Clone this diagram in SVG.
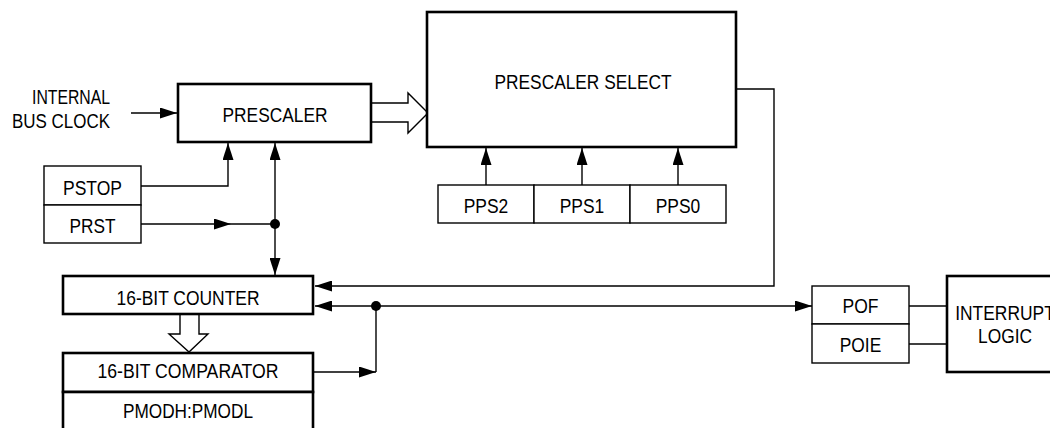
<svg xmlns="http://www.w3.org/2000/svg" width="1050" height="428" viewBox="0 0 1050 428">
<style>
text{font-family:"Liberation Sans",Arial,sans-serif;font-size:20px;fill:#000;text-anchor:middle}
.thick{fill:#fff;stroke:#000;stroke-width:2.6}
.reg{fill:#fff;stroke:#000;stroke-width:1.4}
.ln{fill:none;stroke:#000;stroke-width:1.4}
.hollow{fill:#fff;stroke:#000;stroke-width:1.4;stroke-linejoin:miter}
</style>
<defs>
<marker id="ah" viewBox="0 0 17 11" refX="17" refY="5.5" markerWidth="17" markerHeight="11" markerUnits="userSpaceOnUse" orient="auto-start-reverse">
<path d="M0,0 L17,5.5 L0,11 Z" fill="#000"/>
</marker>
</defs>

<g id="connectors">
<line class="ln" x1="131" y1="113" x2="177" y2="113" marker-end="url(#ah)"/>
<path class="hollow" d="M371,103 H408 V93 L428,113 L408,133 V122 H371"/>
<polyline class="ln" points="141,186 228,186 228,143" marker-end="url(#ah)"/>
<line class="ln" x1="141" y1="224" x2="231" y2="224" marker-end="url(#ah)"/>
<line class="ln" x1="231" y1="224" x2="275" y2="224"/>
<line class="ln" x1="275" y1="143" x2="275" y2="275" marker-start="url(#ah)" marker-end="url(#ah)"/>
<circle cx="275" cy="224" r="5" fill="#000"/>
<line class="ln" x1="486" y1="185" x2="486" y2="148" marker-end="url(#ah)"/>
<line class="ln" x1="582" y1="185" x2="582" y2="148" marker-end="url(#ah)"/>
<line class="ln" x1="678" y1="185" x2="678" y2="148" marker-end="url(#ah)"/>
<polyline class="ln" points="736,89 774,89 774,286 315,286" marker-end="url(#ah)"/>
<line class="ln" x1="315" y1="306" x2="812" y2="306" marker-start="url(#ah)" marker-end="url(#ah)"/>
<circle cx="376" cy="306" r="5" fill="#000"/>
<line class="ln" x1="314" y1="372" x2="376" y2="372" marker-end="url(#ah)"/>
<line class="ln" x1="376" y1="372" x2="376" y2="306"/>
<path class="hollow" d="M180,315 V334 H169 L189,352 L208,334 H199 V315"/>
<line class="ln" x1="909" y1="306" x2="947" y2="306"/>
<line class="ln" x1="909" y1="344" x2="947" y2="344"/>
</g>

<g id="internal-bus-clock">
<text x="110" y="104" style="text-anchor:end" textLength="78" lengthAdjust="spacingAndGlyphs">INTERNAL</text>
<text x="110" y="128" style="text-anchor:end" textLength="98" lengthAdjust="spacingAndGlyphs">BUS CLOCK</text>
</g>

<g id="prescaler">
<rect class="thick" x="178" y="84" width="193" height="58"/>
<text x="275" y="122" textLength="105" lengthAdjust="spacingAndGlyphs">PRESCALER</text>
</g>

<g id="prescaler-select">
<rect class="thick" x="427" y="12" width="309" height="135"/>
<text x="583" y="89" textLength="177" lengthAdjust="spacingAndGlyphs">PRESCALER SELECT</text>
</g>

<g id="pstop">
<rect class="reg" x="44" y="166" width="97" height="39"/>
<text x="92.5" y="195" textLength="59" lengthAdjust="spacingAndGlyphs">PSTOP</text>
</g>

<g id="prst">
<rect class="reg" x="44" y="205" width="97" height="38"/>
<text x="92.5" y="233" textLength="46" lengthAdjust="spacingAndGlyphs">PRST</text>
</g>

<g id="pps2">
<rect class="reg" x="438" y="185" width="96" height="38"/>
<text x="486" y="213" textLength="44.5" lengthAdjust="spacingAndGlyphs">PPS2</text>
</g>
<g id="pps1">
<rect class="reg" x="534" y="185" width="96" height="38"/>
<text x="582" y="213" textLength="44.5" lengthAdjust="spacingAndGlyphs">PPS1</text>
</g>
<g id="pps0">
<rect class="reg" x="630" y="185" width="96" height="38"/>
<text x="678" y="213" textLength="44.5" lengthAdjust="spacingAndGlyphs">PPS0</text>
</g>

<g id="counter">
<rect class="thick" x="63" y="276" width="250" height="38"/>
<text x="188" y="305" textLength="143" lengthAdjust="spacingAndGlyphs">16-BIT COUNTER</text>
</g>

<g id="comparator">
<rect class="thick" x="63" y="353" width="250" height="39"/>
<text x="188" y="378" textLength="181" lengthAdjust="spacingAndGlyphs">16-BIT COMPARATOR</text>
</g>

<g id="pmod">
<rect class="thick" x="63" y="392" width="250" height="50"/>
<text x="188" y="418" textLength="130" lengthAdjust="spacingAndGlyphs">PMODH:PMODL</text>
</g>

<g id="pof">
<rect class="reg" x="812" y="286" width="97" height="38"/>
<text x="860.5" y="313" textLength="36" lengthAdjust="spacingAndGlyphs">POF</text>
</g>
<g id="poie">
<rect class="reg" x="812" y="324" width="97" height="39"/>
<text x="860.5" y="352" textLength="41.5" lengthAdjust="spacingAndGlyphs">POIE</text>
</g>

<g id="interrupt-logic">
<rect class="thick" x="947" y="276" width="120" height="96"/>
<text x="1005" y="320" textLength="99.6" lengthAdjust="spacingAndGlyphs">INTERRUPT</text>
<text x="1005" y="343" textLength="54" lengthAdjust="spacingAndGlyphs">LOGIC</text>
</g>
</svg>
